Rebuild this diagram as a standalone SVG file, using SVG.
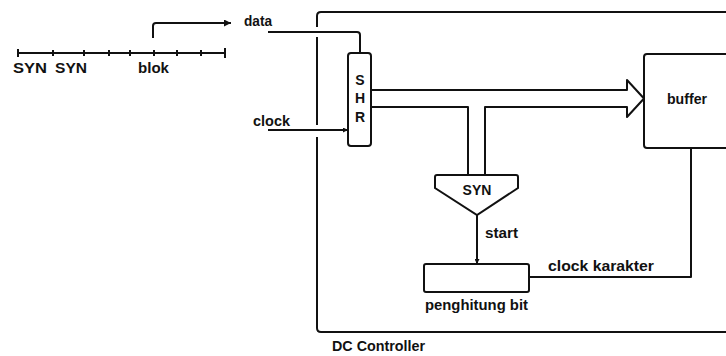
<svg xmlns="http://www.w3.org/2000/svg" width="726" height="356" viewBox="0 0 726 356">
  <style>
    .ln { fill: none; stroke: #111; stroke-width: 2; stroke-linejoin: round; }
    .bx { fill: #fff; stroke: #111; stroke-width: 2; }
    .t { font-family: "Liberation Sans", Arial, sans-serif; font-size: 14px; font-weight: bold; fill: #111; }
    .c { text-anchor: middle; }
  </style>
  <defs>
    <marker id="ah" viewBox="0 0 10 10" refX="10" refY="5" markerWidth="10" markerHeight="7" markerUnits="userSpaceOnUse" orient="auto">
      <path d="M0 0 L10 5 L0 10 Z" fill="#111"/>
    </marker>
    <marker id="ahs" viewBox="0 0 10 10" refX="10" refY="5" markerWidth="6" markerHeight="5" markerUnits="userSpaceOnUse" orient="auto">
      <path d="M0 0 L10 5 L0 10 Z" fill="#111"/>
    </marker>
  </defs>

  <g id="timeline">
    <path class="ln" d="M18 53 H225"/>
    <path class="ln" stroke-width="1.5" d="M18 49 V57 M53 50 V56 M84 50 V56 M109 50 V56 M130 50 V56 M154 50 V56 M177 50 V56 M201 50 V56 M225 48 V58"/>
    <text class="t" x="13" y="73" textLength="34" lengthAdjust="spacingAndGlyphs">SYN</text>
    <text class="t" x="55" y="73" textLength="32" lengthAdjust="spacingAndGlyphs">SYN</text>
    <text class="t" x="138" y="73" textLength="31" lengthAdjust="spacingAndGlyphs">blok</text>
  </g>

  <g id="controller">
    <path class="ln" d="M317 27 V16 Q317 12 321 12 H730"/>
    <path class="ln" d="M317 37 V125"/>
    <path class="ln" d="M317 137 V328 Q317 332 321 332 H730"/>
    <text class="t" x="332" y="351" textLength="93" lengthAdjust="spacingAndGlyphs">DC Controller</text>
  </g>

  <g id="shr">
    <rect class="bx" x="348" y="53" width="23" height="93" rx="3"/>
    <text class="t c" x="360" y="85">S</text>
    <text class="t c" x="360" y="103">H</text>
    <text class="t c" x="360" y="122">R</text>
  </g>

  <g id="buffer">
    <path class="bx" d="M730 54 H647 Q644 54 644 57 V145 Q644 148 647 148 H730"/>
    <text class="t" x="667" y="104" textLength="40" lengthAdjust="spacingAndGlyphs">buffer</text>
  </g>

  <g id="syn">
    <path class="bx" d="M437 175 H516 Q518 175 518 177 V188 L477 215 L435 188 V177 Q435 175 437 175 Z"/>
    <text class="t c" x="477" y="195">SYN</text>
  </g>

  <g id="penghitung">
    <rect class="bx" x="424" y="264" width="105" height="28" rx="2"/>
    <text class="t" x="425" y="310" textLength="103" lengthAdjust="spacingAndGlyphs">penghitung bit</text>
  </g>

  <g id="connectors">
    <path class="ln" d="M153 38 V26 Q153 23 156 23 H231" marker-end="url(#ah)"/>
    <text class="t" x="244" y="26" textLength="28" lengthAdjust="spacingAndGlyphs">data</text>
    <path class="ln" d="M268 32 H357 Q360 32 360 35 V53"/>
    <path class="ln" d="M268 130 H348" marker-end="url(#ahs)"/>
    <text class="t" x="253" y="126" textLength="37" lengthAdjust="spacingAndGlyphs">clock</text>
    <path class="ln" d="M371 90 H627 V80 L644 98.5 L627 117 V107 H485 V175"/>
    <path class="ln" d="M371 107 H468 V175"/>
    <path class="ln" d="M477 215 V264" marker-end="url(#ahs)"/>
    <text class="t" x="485" y="238" textLength="33" lengthAdjust="spacingAndGlyphs">start</text>
    <path class="ln" d="M529 277 H691 V148"/>
    <text class="t" x="548" y="271" textLength="106" lengthAdjust="spacingAndGlyphs">clock karakter</text>
  </g>
</svg>
